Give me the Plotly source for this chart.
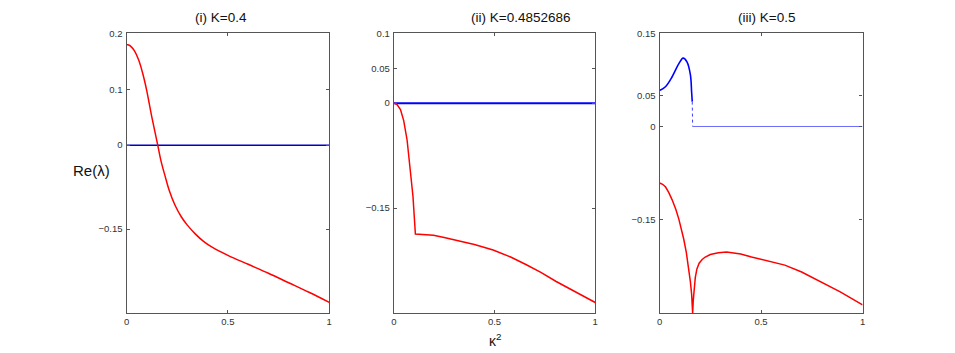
import plotly.graph_objects as go

# ---- data ----
k1_x = [0, 0.01, 0.02, 0.04, 0.06, 0.08, 0.10, 0.12, 0.14, 0.154, 0.17, 0.19, 0.21, 0.24, 0.27, 0.30,
        0.34, 0.38, 0.42, 0.50, 0.60, 0.70, 0.80, 0.90, 1.0]
k1_red = [0.18, 0.179, 0.177, 0.168, 0.152, 0.128, 0.097, 0.059, 0.024, 0.0, -0.028, -0.055, -0.080,
          -0.108, -0.128, -0.143, -0.159, -0.172, -0.182, -0.197, -0.213, -0.229, -0.246, -0.263, -0.281]
k1_zero_x = [0, 1]
k1_zero_y = [0, 0]

k2_x = [0, 0.016, 0.033, 0.049, 0.066, 0.082, 0.095, 0.107, 0.197, 0.25, 0.3125, 0.4, 0.493, 0.58,
        0.658, 0.73, 0.806, 0.9, 1.0]
k2_red = [0.0, -0.002, -0.009, -0.025, -0.053, -0.096, -0.133, -0.187, -0.189, -0.192, -0.196, -0.202,
          -0.210, -0.220, -0.231, -0.242, -0.255, -0.269, -0.285]
k2_zero_x = [0, 1]
k2_zero_y = [0, 0]

k3_blue_x = [0, 0.029, 0.062, 0.095, 0.116, 0.135, 0.152, 0.158, 0.161]
k3_blue = [0.058, 0.064, 0.080, 0.101, 0.110, 0.104, 0.083, 0.055, 0.040]
k3_drop_x = [0.161, 0.162, 0.163]
k3_drop = [0.040, 0.018, 0.0]
k3_flat_x = [0.163, 1.0]
k3_flat = [0.0, 0.0]
k3_red_x = [0, 0.015, 0.029, 0.045, 0.062, 0.08, 0.095, 0.108, 0.119, 0.132, 0.144, 0.152, 0.158,
            0.161, 0.163, 0.166, 0.170, 0.176, 0.184, 0.195, 0.21, 0.225, 0.25, 0.29, 0.33, 0.356,
            0.4, 0.453, 0.53, 0.617, 0.7, 0.78, 0.89, 1.0]
k3_red = [-0.091, -0.093, -0.097, -0.106, -0.118, -0.133, -0.149, -0.164, -0.181, -0.203, -0.229,
          -0.250, -0.270, -0.285, -0.300, -0.280, -0.260, -0.243, -0.229, -0.220, -0.214, -0.210,
          -0.206, -0.203, -0.202, -0.203, -0.205, -0.210, -0.216, -0.223, -0.234, -0.247, -0.266, -0.287]

titles = ["(i) K=0.4", "(ii) K=0.4852686", "(iii) K=0.5"]
y_ranges = [[-0.3, 0.2], [-0.3, 0.1], [-0.3, 0.15]]
y_ticks = [[-0.15, 0, 0.1, 0.2], [-0.15, 0, 0.05, 0.1], [-0.15, 0, 0.05, 0.15]]
y_ticktext = [["\u22120.15", "0", "0.1", "0.2"], ["\u22120.15", "0", "0.05", "0.1"], ["\u22120.15", "0", "0.05", "0.15"]]
x_ticks = [0, 0.5, 1]
x_ticktext = ["0", "0.5", "1"]

W, H = 955, 353
x_dom_px = [(124.3, 328.3), (393.3, 596.0), (660.7, 865.0)]
y_dom_px = (27.7, 312.3)

RED = "#ff0000"
fig = go.Figure()

def add(xs, ys, ax, color, width, dash="solid", shape="linear"):
    fig.add_trace(go.Scatter(x=xs, y=ys, mode="lines",
                             line=dict(color=color, width=width, dash=dash, shape=shape),
                             xaxis="x" + ax, yaxis="y" + ax, showlegend=False, hoverinfo="skip"))

add(k1_zero_x, k1_zero_y, "", "#0000c8", 1.5)
add(k1_x, k1_red, "", RED, 1.5, shape="spline")
add(k2_zero_x, k2_zero_y, "2", "#0000ff", 2)
add(k2_x, k2_red, "2", RED, 1.5)
add(k3_blue_x, k3_blue, "3", "#0000ff", 1.6, shape="spline")
add(k3_drop_x, k3_drop, "3", "#4040ff", 1, dash="dot")
add(k3_flat_x, k3_flat, "3", "#6a6aff", 1)
add(k3_red_x, k3_red, "3", RED, 1.5)

ydom = [1 - y_dom_px[1] / H, 1 - y_dom_px[0] / H]
layout = dict(width=W, height=H, margin=dict(l=0, r=0, t=0, b=0),
              paper_bgcolor="white", plot_bgcolor="white",
              font=dict(family="Liberation Sans, Arial, sans-serif", color="#222"))
annotations = []
for i in range(3):
    sfx = "" if i == 0 else str(i + 1)
    common = dict(showgrid=False, zeroline=False, showline=True, linecolor="#555", linewidth=1.2,
                  mirror="allticks", ticks="inside", ticklen=3, tickcolor="#555", tickwidth=1,
                  tickfont=dict(size=9.5, color="#333"), fixedrange=True)
    layout["xaxis" + sfx] = dict(domain=[x_dom_px[i][0] / W, x_dom_px[i][1] / W], range=[0, 1],
                                 tickvals=x_ticks, ticktext=x_ticktext, anchor="y" + sfx, **common)
    layout["yaxis" + sfx] = dict(domain=ydom, range=y_ranges[i], tickvals=y_ticks[i], ticktext=y_ticktext[i],
                                 anchor="x" + sfx, ticklabelstandoff=1, **common)

title_cx = [219, 521, 768]
for i in range(3):
    annotations.append(dict(text=titles[i], x=title_cx[i] / W, y=1 - 12 / H, xref="paper", yref="paper",
                            xanchor="center", yanchor="middle", showarrow=False,
                            font=dict(size=13.5, color="#111")))
annotations.append(dict(text="Re(\u03bb)", x=89 / W, y=1 - 167 / H, xref="paper", yref="paper",
                        xanchor="center", yanchor="middle", showarrow=False, font=dict(size=15, color="#111")))
annotations.append(dict(text="\u03ba<sup>2</sup>", x=495 / W, y=1 - 340 / H, xref="paper", yref="paper",
                        xanchor="center", yanchor="middle", showarrow=False, font=dict(size=14, color="#111")))
layout["annotations"] = annotations
fig.update_layout(**layout)
fig.write_html("out.html", config={"displayModeBar": False},
               post_script="document.body.style.margin='0';document.body.style.overflow='hidden';")
